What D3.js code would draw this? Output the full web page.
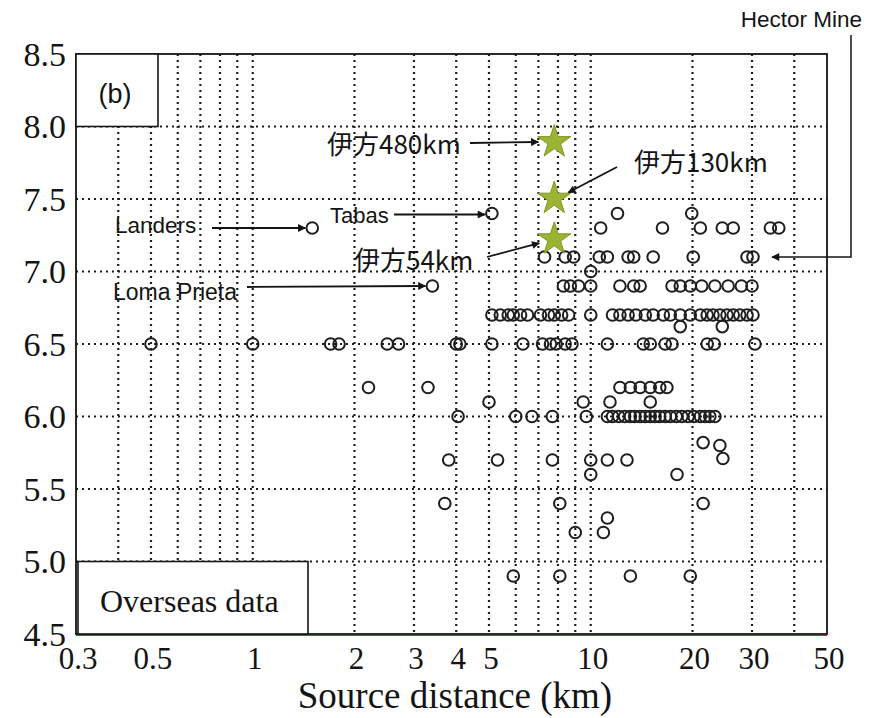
<!DOCTYPE html>
<html>
<head>
<meta charset="utf-8">
<script src="https://cdn.jsdelivr.net/npm/d3@7"></script>
<style>
  body { margin: 0; background: #fff; }
  svg { display: block; }
</style>
</head>
<body>
<script>
// tick values
const distTicks = [0.3, 0.5, 1, 2, 3, 4, 5, 10, 20, 30, 50];
const magTicks = [4.5, 5.0, 5.5, 6.0, 6.5, 7.0, 7.5, 8.0, 8.5];
const gridDist = [0.4, 0.5, 0.6, 0.7, 0.8, 0.9, 1, 2, 3, 4, 5, 6, 7, 8, 9, 10, 20, 30, 40];
const gridMag = [5.0, 5.5, 6.0, 6.5, 7.0, 7.5, 8.0];

// overseas records (source distance km, magnitude)
const overseasDist = [
  5.1, 12.0, 19.9,
  1.5, 10.7, 16.3, 21.1, 24.5, 26.4, 34.0, 36.0,
  7.3, 8.4, 8.9, 10.6, 11.2, 12.9, 13.4, 15.3, 20.1, 29.0, 30.2,
  10.0,
  3.4, 8.3, 8.7, 9.2, 10.0, 12.2, 13.4, 14.0, 17.4, 18.4, 19.7, 21.3, 23.3, 25.5, 27.9, 30.0,
  5.1, 5.4, 5.7, 5.9, 6.2, 6.5, 7.1, 7.5, 7.8, 8.2, 8.6, 10.0,
  11.6, 12.2, 12.9, 13.6, 14.5, 15.3, 16.4,
  17.2, 18.4, 19.7, 21.1, 22.1, 23.0, 24.1, 25.3, 26.4, 27.6, 29.0, 30.2,
  18.4, 24.5,
  0.5, 1.0, 1.7, 1.8, 2.5, 2.7, 4.0, 4.1, 5.1, 6.3, 7.2, 7.6, 7.9, 8.4, 8.8,
  11.2, 14.3, 15.0, 16.6, 17.4, 22.1, 23.2, 30.6,
  2.2, 3.3, 12.2, 13.1, 14.0, 15.0, 16.0, 16.8,
  5.0, 9.5, 11.4, 15.0,
  4.05, 6.0, 6.7, 7.7, 9.7,
  11.2, 11.6, 12.1, 12.6, 13.1, 13.5, 14.0, 14.5, 15.0, 15.5, 16.0,
  16.6, 17.2, 17.9, 18.6, 19.4, 20.2, 21.1, 21.8, 22.5, 23.3,
  21.5, 24.1, 24.6,
  3.8, 5.3, 7.7, 10.0, 11.2, 12.8,
  10.0, 18.0,
  3.7, 8.1, 21.5,
  11.2,
  9.0, 10.9,
  5.9, 8.1, 13.1, 19.7
];
const overseasMag = [
  7.4, 7.4, 7.4,
  7.3, 7.3, 7.3, 7.3, 7.3, 7.3, 7.3, 7.3,
  7.1, 7.1, 7.1, 7.1, 7.1, 7.1, 7.1, 7.1, 7.1, 7.1, 7.1,
  7.0,
  6.9, 6.9, 6.9, 6.9, 6.9, 6.9, 6.9, 6.9, 6.9, 6.9, 6.9, 6.9, 6.9, 6.9, 6.9, 6.9,
  6.7, 6.7, 6.7, 6.7, 6.7, 6.7, 6.7, 6.7, 6.7, 6.7, 6.7, 6.7,
  6.7, 6.7, 6.7, 6.7, 6.7, 6.7, 6.7,
  6.7, 6.7, 6.7, 6.7, 6.7, 6.7, 6.7, 6.7, 6.7, 6.7, 6.7, 6.7,
  6.62, 6.62,
  6.5, 6.5, 6.5, 6.5, 6.5, 6.5, 6.5, 6.5, 6.5, 6.5, 6.5, 6.5, 6.5, 6.5, 6.5,
  6.5, 6.5, 6.5, 6.5, 6.5, 6.5, 6.5, 6.5,
  6.2, 6.2, 6.2, 6.2, 6.2, 6.2, 6.2, 6.2,
  6.1, 6.1, 6.1, 6.1,
  6.0, 6.0, 6.0, 6.0, 6.0,
  6.0, 6.0, 6.0, 6.0, 6.0, 6.0, 6.0, 6.0, 6.0, 6.0, 6.0,
  6.0, 6.0, 6.0, 6.0, 6.0, 6.0, 6.0, 6.0, 6.0, 6.0,
  5.82, 5.8, 5.71,
  5.7, 5.7, 5.7, 5.7, 5.7, 5.7,
  5.6, 5.6,
  5.4, 5.4, 5.4,
  5.3,
  5.2, 5.2,
  4.9, 4.9, 4.9, 4.9
];

// Ikata cases (stars)
const ikataDist = [7.8, 7.8, 7.8];
const ikataMag = [7.9, 7.51, 7.23];
const ikataLabels = ["伊方480km", "伊方130km", "伊方54km"];

// named overseas events
const eventNames = ["Landers", "Tabas", "Loma Prieta", "Hector Mine"];
const eventDist = [1.5, 5.1, 3.4, 29.6];
const eventMag = [7.3, 7.4, 6.9, 7.1];

const width = 872;
const height = 718;
const plot = { left: 76, right: 827, top: 54, bottom: 634 };

const ink = "#141414";
const serif = "'Liberation Serif', 'Times New Roman', serif";
const sans = "'Liberation Sans', Arial, sans-serif";
const jp = "'Noto Sans CJK JP', 'Liberation Sans', sans-serif";

const svg = d3.select("body")
  .append("svg")
  .attr("width", width)
  .attr("height", height);

const x = d3.scaleLog().domain([0.3, 50]).range([plot.left, plot.right]);
const y = d3.scaleLinear().domain([4.5, 8.5]).range([plot.bottom, plot.top]);

svg.append("defs").append("marker")
  .attr("id", "arrow")
  .attr("viewBox", "0 0 10 10")
  .attr("refX", 9)
  .attr("refY", 5)
  .attr("markerWidth", 10)
  .attr("markerHeight", 8)
  .attr("markerUnits", "userSpaceOnUse")
  .attr("orient", "auto")
  .append("path")
  .attr("d", "M0,0L10,5L0,10Z")
  .attr("fill", ink);

// dotted grid
svg.selectAll(".vgrid")
  .data(gridDist)
  .enter()
  .append("line")
  .attr("class", "vgrid")
  .attr("x1", d => x(d))
  .attr("x2", d => x(d))
  .attr("y1", plot.top)
  .attr("y2", plot.bottom)
  .attr("stroke", "#1e1e1e")
  .attr("stroke-width", 2.2)
  .attr("stroke-dasharray", "2,4");

svg.selectAll(".hgrid")
  .data(gridMag)
  .enter()
  .append("line")
  .attr("class", "hgrid")
  .attr("x1", plot.left)
  .attr("x2", plot.right)
  .attr("y1", d => y(d))
  .attr("y2", d => y(d))
  .attr("stroke", "#1e1e1e")
  .attr("stroke-width", 2.2)
  .attr("stroke-dasharray", "2,4");

// frame
svg.append("rect")
  .attr("x", plot.left)
  .attr("y", plot.top)
  .attr("width", plot.right - plot.left)
  .attr("height", plot.bottom - plot.top)
  .attr("fill", "none")
  .attr("stroke", ink)
  .attr("stroke-width", 1.8);

svg.append("line")
  .attr("x1", plot.left).attr("x2", plot.right)
  .attr("y1", plot.bottom + 1.5).attr("y2", plot.bottom + 1.5)
  .attr("stroke", "#d0243a")
  .attr("stroke-width", 1.2);

// label boxes
svg.append("rect")
  .attr("x", plot.left)
  .attr("y", plot.top)
  .attr("width", 82)
  .attr("height", y(8.0) - plot.top)
  .attr("fill", "#fff")
  .attr("stroke", ink)
  .attr("stroke-width", 1.6);

svg.append("text")
  .attr("x", plot.left + 39)
  .attr("y", 103)
  .attr("text-anchor", "middle")
  .attr("font-family", sans)
  .attr("font-size", 27)
  .attr("fill", ink)
  .text("(b)");

svg.append("rect")
  .attr("x", plot.left + 2)
  .attr("y", y(5.0))
  .attr("width", 230)
  .attr("height", plot.bottom - y(5.0))
  .attr("fill", "#fff")
  .attr("stroke", ink)
  .attr("stroke-width", 1.6);

svg.append("text")
  .attr("x", 100)
  .attr("y", 612)
  .attr("font-family", serif)
  .attr("font-size", 32)
  .attr("fill", ink)
  .text("Overseas data");

// overseas points
const overseas = overseasDist.map((d, i) => [d, overseasMag[i]]);

svg.selectAll(".pt")
  .data(overseas)
  .enter()
  .append("circle")
  .attr("class", "pt")
  .attr("cx", d => x(d[0]))
  .attr("cy", d => y(d[1]))
  .attr("r", 5.8)
  .attr("fill", "none")
  .attr("stroke", "#1e1e1e")
  .attr("stroke-width", 2);

// Ikata stars
const ikata = ikataDist.map((d, i) => ({ d: d, m: ikataMag[i], label: ikataLabels[i] }));

svg.selectAll(".star")
  .data(ikata)
  .enter()
  .append("path")
  .attr("class", "star")
  .attr("d", d3.symbol().type(d3.symbolStar).size(340))
  .attr("transform", d => `translate(${x(d.d)},${y(d.m) + 1})`)
  .attr("fill", "#9db334")
  .attr("stroke", "#7f9426")
  .attr("stroke-width", 1);

// annotations: text position and arrow start in pixels, arrow end at the mark
function arrow(x1, y1, x2, y2) {
  svg.append("line")
    .attr("x1", x1).attr("y1", y1)
    .attr("x2", x2).attr("y2", y2)
    .attr("stroke", ink)
    .attr("stroke-width", 1.8)
    .attr("marker-end", "url(#arrow)");
}

function label(txt, tx, ty, font, size) {
  svg.append("text")
    .attr("x", tx)
    .attr("y", ty)
    .attr("font-family", font)
    .attr("font-size", size)
    .attr("fill", ink)
    .text(txt);
}

label(ikata[0].label, 327, 154, jp, 26);
arrow(470, 143, x(ikata[0].d) - 16, y(ikata[0].m) + 1);

label(ikata[1].label, 634, 172, jp, 26);
arrow(617, 167, x(ikata[1].d) + 14, y(ikata[1].m) - 5);

label(ikata[2].label, 354, 270, jp, 26);
arrow(487, 257, x(ikata[2].d) - 15, y(ikata[2].m) + 5);

label(eventNames[0], 115, 233, sans, 22.5);
arrow(212, y(eventMag[0]), x(eventDist[0]) - 7, y(eventMag[0]));

label(eventNames[1], 330, 223, sans, 22);
arrow(394, y(eventMag[1]) + 1, x(eventDist[1]) - 7, y(eventMag[1]) + 1);

label(eventNames[2], 113, 300, sans, 23);
arrow(247, y(eventMag[2]) + 1, x(eventDist[2]) - 7, y(eventMag[2]));

svg.append("text")
  .attr("x", 862)
  .attr("y", 27)
  .attr("text-anchor", "end")
  .attr("font-family", sans)
  .attr("font-size", 22.5)
  .attr("fill", ink)
  .text(eventNames[3]);

svg.append("path")
  .attr("d", `M851,35V${y(eventMag[3])}H${x(eventDist[3]) + 22}`)
  .attr("fill", "none")
  .attr("stroke", ink)
  .attr("stroke-width", 1.5)
  .attr("marker-end", "url(#arrow)");

// axis tick labels
svg.selectAll(".ylab")
  .data(magTicks)
  .enter()
  .append("text")
  .attr("class", "ylab")
  .attr("x", 66)
  .attr("y", d => y(d))
  .attr("dy", "0.35em")
  .attr("text-anchor", "end")
  .attr("font-family", serif)
  .attr("font-size", 34)
  .attr("fill", ink)
  .text(d => d.toFixed(1));

svg.selectAll(".xlab")
  .data(distTicks)
  .enter()
  .append("text")
  .attr("class", "xlab")
  .attr("x", d => x(d) + 2)
  .attr("y", 669)
  .attr("text-anchor", "middle")
  .attr("font-family", serif)
  .attr("font-size", 31)
  .attr("fill", ink)
  .text(d => d);

svg.append("text")
  .attr("x", 455)
  .attr("y", 708)
  .attr("text-anchor", "middle")
  .attr("font-family", serif)
  .attr("font-size", 37)
  .attr("fill", ink)
  .text("Source distance (km)");
</script>
</body>
</html>
